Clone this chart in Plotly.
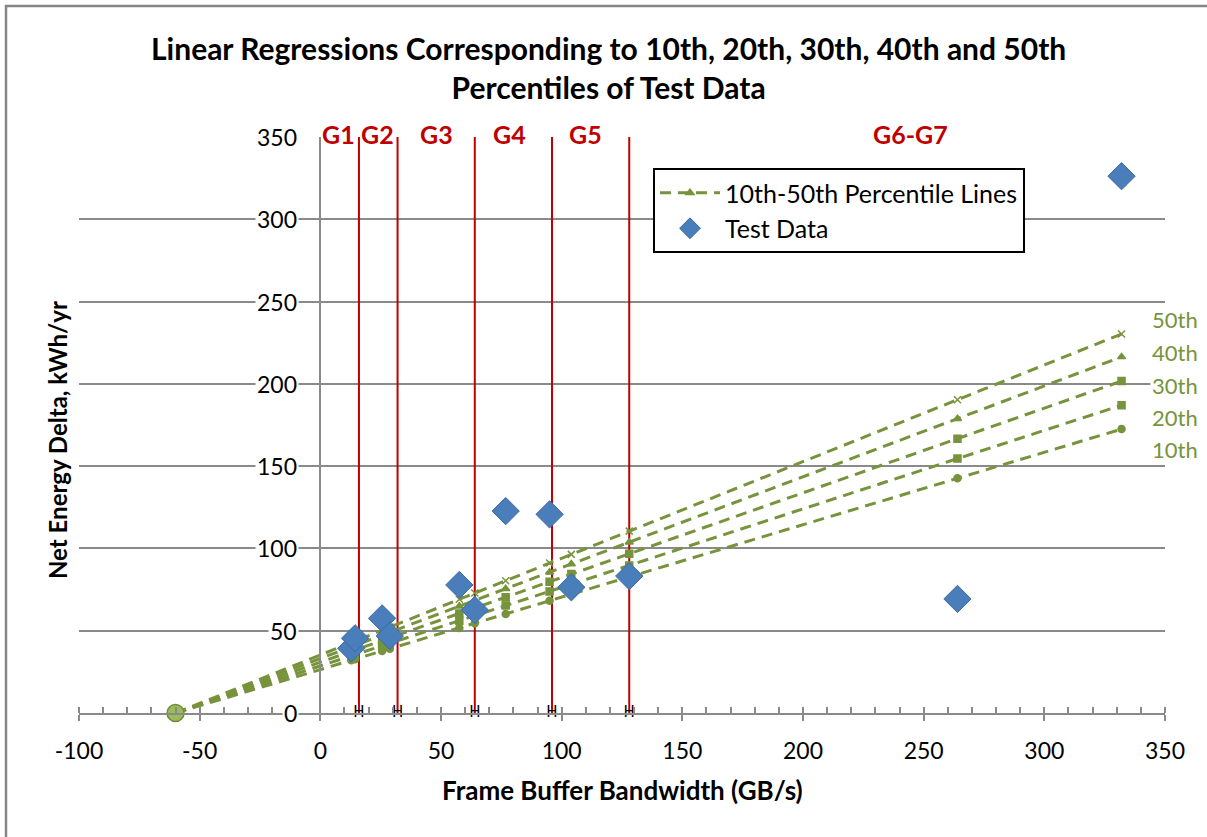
import plotly.graph_objects as go

# ---------------- data ----------------
test_x = [12.8, 14.4, 25.6, 28.8, 57.6, 64, 76.8, 95, 104, 128, 264, 332]
test_y = [39.3, 45.4, 57.5, 46.8, 77.8, 62.6, 122.7, 120.7, 76.4, 83.2, 69.3, 326.2]

line_x = [-60, 12.8, 14.4, 25.6, 28.8, 57.6, 64, 76.8, 95, 104, 128, 264, 332]
p10 = [0, 32.0, 32.7, 37.7, 39.1, 51.7, 54.6, 60.2, 68.2, 72.2, 82.7, 142.6, 172.5]
p20 = [0, 34.7, 35.5, 40.8, 42.4, 56.1, 59.2, 65.3, 73.9, 78.2, 89.7, 154.6, 187.0]
p30 = [0, 37.5, 38.3, 44.0, 45.7, 60.5, 63.8, 70.4, 79.8, 84.4, 96.7, 166.7, 201.7]
p40 = [0, 40.2, 41.1, 47.3, 49.0, 64.9, 68.4, 75.5, 85.6, 90.5, 103.8, 178.8, 216.4]
p50 = [0, 42.8, 43.7, 50.3, 52.2, 69.1, 72.9, 80.4, 91.1, 96.4, 110.5, 190.4, 230.3]
percentile_names = ["10th", "20th", "30th", "40th", "50th"]
percentile_label_y = [160.4, 179.8, 199.3, 219.3, 239.4]

origin_x = [-60]
origin_y = [0]

group_edges = [16, 32, 64, 96, 128]
group_names = ["G1", "G2", "G3", "G4", "G5", "G6-G7"]
group_label_x = [7.4, 23.5, 48.3, 78.2, 110, 244.4]

x_ticks = [-100, -50, 0, 50, 100, 150, 200, 250, 300, 350]
y_ticks = [0, 50, 100, 150, 200, 250, 300, 350]

# ---------------- styles ----------------
FONT = "Lato"
GREEN = "#77933C"
RED = "#C00000"
BLUE = "#4A7EBB"
GRID = "#8A8A8A"

fig = go.Figure()

# red group boundary lines
rx, ry = [], []
for e in group_edges:
    rx += [e, e, None]
    ry += [0, 350, None]
fig.add_trace(go.Scatter(x=rx, y=ry, mode="lines", line=dict(color=RED, width=2),
                         showlegend=False, hoverinfo="skip"))
fig.add_trace(go.Scatter(x=group_edges, y=[0] * len(group_edges), mode="text", text=["H"] * len(group_edges),
                         textfont=dict(family="DejaVu Sans", size=15, color="black"),
                         showlegend=False, hoverinfo="skip", cliponaxis=False))

# percentile lines
series = [p10, p20, p30, p40, p50]
symbols = ["circle", "square", "square-x", "triangle-up", "x-thin"]
for name, ys, sym in zip(percentile_names, series, symbols):
    is_leg = name == "40th"
    fig.add_trace(go.Scatter(
        x=line_x, y=ys, mode="lines+markers",
        name="10th-50th Percentile Lines" if is_leg else name,
        showlegend=is_leg, legendgroup="a", legendrank=1,
        line=dict(color=GREEN, width=3, dash="11px,7px"),
        marker=dict(symbol=sym, size=7, color=GREEN,
                    line=dict(color=GREEN, width=1.5)),
        cliponaxis=False))

# origin point
fig.add_trace(go.Scatter(x=origin_x, y=origin_y, mode="markers", showlegend=False,
                         marker=dict(size=17, color="#9BBB59", line=dict(color="#71893F", width=1.5)),
                         cliponaxis=False))

# test data
fig.add_trace(go.Scatter(x=test_x, y=test_y, mode="markers", name="Test Data",
                         legendgroup="b", legendrank=2,
                         marker=dict(symbol="diamond", size=21, color=BLUE,
                                     line=dict(color="#3D6BA3", width=1)),
                         cliponaxis=False))

# overlay axis for inward major ticks
fig.add_trace(go.Scatter(x=[None], y=[None], xaxis="x2", showlegend=False))

annotations = []
for v in y_ticks:
    annotations.append(dict(x=0, y=v, xref="x", yref="y", text=str(v), showarrow=False,
                            xanchor="right", yanchor="middle", xshift=-21, bgcolor="white",
                            font=dict(family=FONT, size=23, color="black")))
for n, gx in zip(group_names, group_label_x):
    annotations.append(dict(x=gx, y=350, xref="x", yref="y", text="<b>%s</b>" % n, showarrow=False,
                            xanchor="center", yanchor="middle", yshift=3,
                            font=dict(family=FONT, size=25, color=RED)))
for n, py in zip(percentile_names, percentile_label_y):
    annotations.append(dict(x=0.986, y=py, xref="paper", yref="y", text=n, showarrow=False,
                            xanchor="left", yanchor="middle", bgcolor="white",
                            font=dict(family=FONT, size=22, color=GREEN)))
annotations.append(dict(x=0.5, y=(713 - 790) / 576, xref="paper", yref="paper",
                        text="<b>Frame Buffer Bandwidth (GB/s)</b>", showarrow=False,
                        xanchor="center", yanchor="middle",
                        font=dict(family=FONT, size=26, color="black")))
annotations.append(dict(x=(57 - 79) / 1086, y=(713 - 440) / 576, xref="paper", yref="paper", textangle=-90,
                        text="<b>Net Energy Delta, kWh/yr</b>", showarrow=False,
                        xanchor="center", yanchor="middle",
                        font=dict(family=FONT, size=24, color="black")))
annotations.append(dict(x=(608 - 79) / 1086, y=(713 - 68) / 576, xref="paper", yref="paper",
                        text="<b>Linear Regressions Corresponding to 10th, 20th, 30th, 40th and 50th<br>Percentiles of Test Data</b>",
                        showarrow=False, xanchor="center", yanchor="middle",
                        font=dict(family=FONT, size=30, color="black")))

fig.update_layout(
    width=1207, height=837,
    margin=dict(l=79, r=42, t=137, b=124),
    paper_bgcolor="white", plot_bgcolor="white",
    xaxis=dict(range=[-100, 350], tickvals=x_ticks, ticktext=[str(v) for v in x_ticks],
               showgrid=False, zeroline=False,
               showline=True, linecolor=GRID, linewidth=2,
               ticks="outside", ticklen=6, tickwidth=2, tickcolor=GRID,
               ticklabelstandoff=10,
               minor=dict(dtick=10, ticks="inside", ticklen=6, tickwidth=1.5, tickcolor=GRID),
               tickfont=dict(family=FONT, size=23, color="black")),
    xaxis2=dict(range=[-100, 350], overlaying="x", anchor="y", side="bottom",
                tickvals=x_ticks, showticklabels=False, showgrid=False, zeroline=False,
                ticks="inside", ticklen=6, tickwidth=2, tickcolor=GRID),
    yaxis=dict(range=[0, 350], tickvals=y_ticks, showticklabels=False,
               showgrid=True, gridcolor=GRID, gridwidth=2, zeroline=False,
               showline=True, linecolor=GRID, linewidth=2,
               anchor="free", position=100 / 450),
    legend=dict(x=(653 - 79) / 1086, y=(713 - 168) / 576, xanchor="left", yanchor="top",
                bgcolor="white", bordercolor="black", borderwidth=2,
                traceorder="grouped", tracegroupgap=0, itemwidth=60,
                font=dict(family=FONT, size=25, color="black")),
    annotations=annotations,
    shapes=[dict(type="rect", xref="paper", yref="paper",
                 x0=(6 - 79) / 1086, x1=(1240 - 79) / 1086,
                 y0=(713 - 870) / 576, y1=(713 - 6) / 576,
                 line=dict(color="#868686", width=2.5), fillcolor="rgba(0,0,0,0)", layer="below")],
)

fig.write_html("out.html")
